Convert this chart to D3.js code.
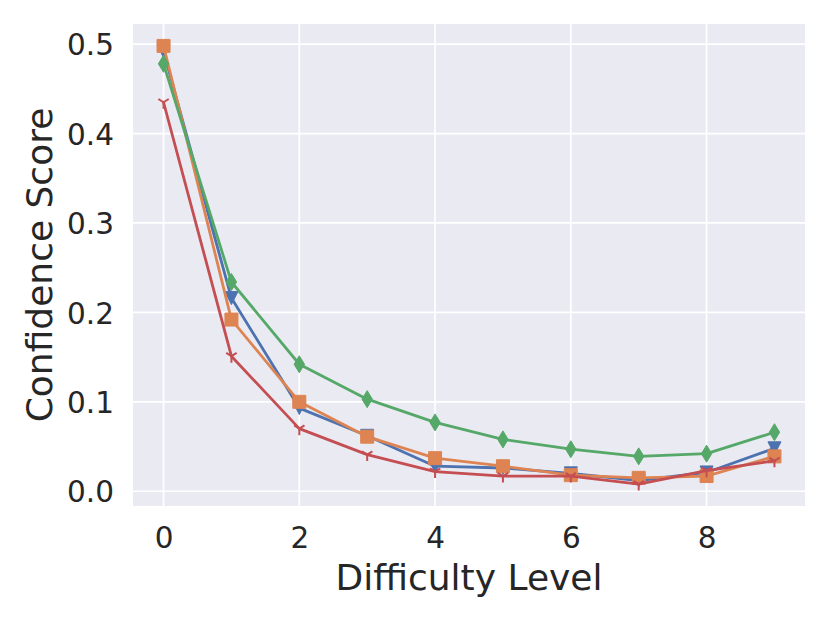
<!DOCTYPE html>
<html>
<head>
<meta charset="utf-8">
<script src="https://cdn.jsdelivr.net/npm/d3@7"></script>
<style>
  html, body { margin: 0; padding: 0; background: #fff; }
  svg { display: block; font-family: "DejaVu Sans", sans-serif; }
</style>
</head>
<body>
<svg id="chart" width="830" height="623"></svg>
<script>
// ---- data ----
const levels = [0, 1, 2, 3, 4, 5, 6, 7, 8, 9];
const seriesBlue   = [0.492, 0.216, 0.093, 0.062, 0.028, 0.026, 0.020, 0.012, 0.021, 0.048];
const seriesOrange = [0.498, 0.192, 0.100, 0.061, 0.037, 0.028, 0.018, 0.015, 0.017, 0.039];
const seriesGreen  = [0.478, 0.234, 0.142, 0.103, 0.077, 0.058, 0.047, 0.039, 0.042, 0.066];
const seriesRed    = [0.435, 0.151, 0.070, 0.041, 0.022, 0.017, 0.017, 0.008, 0.023, 0.034];
const xTicks = [0, 2, 4, 6, 8];
const yTicks = [0.0, 0.1, 0.2, 0.3, 0.4, 0.5];
const xLabel = "Difficulty Level";
const yLabel = "Confidence Score";

const series = [
  { values: seriesBlue,   color: "#4C72B0", marker: "triDown" },
  { values: seriesOrange, color: "#DD8452", marker: "square" },
  { values: seriesGreen,  color: "#55A868", marker: "diamond" },
  { values: seriesRed,    color: "#C44E52", marker: "tri1" }
];

// ---- layout ----
const L = 133, R = 805, T = 24, B = 506;
const svg = d3.select("#chart");
const x = d3.scaleLinear().domain([-0.45, 9.45]).range([L, R]);
const y = d3.scaleLinear().domain([-0.0165, 0.5225]).range([B, T]);

svg.append("rect").attr("x", L).attr("y", T).attr("width", R - L).attr("height", B - T)
  .attr("fill", "#EAEAF2");

const grid = svg.append("g");
grid.selectAll("line.v").data(xTicks).join("line")
  .attr("x1", d => x(d)).attr("x2", d => x(d)).attr("y1", T).attr("y2", B)
  .attr("stroke", "#fff").attr("stroke-width", 1.7);
grid.selectAll("line.h").data(yTicks).join("line")
  .attr("y1", d => y(d)).attr("y2", d => y(d)).attr("x1", L).attr("x2", R)
  .attr("stroke", "#fff").attr("stroke-width", 1.7);

// axes (labels only, seaborn darkgrid style)
const xAxis = d3.axisBottom(x).tickValues(xTicks).tickSize(0).tickPadding(0).tickFormat(d3.format("d"));
const gx = svg.append("g").attr("transform", `translate(0,${B})`).call(xAxis);
gx.select(".domain").remove();
gx.selectAll("text").attr("y", 42).attr("dy", null)
  .attr("font-size", 29.5).attr("fill", "#262626").attr("font-family", "DejaVu Sans");

const yAxis = d3.axisLeft(y).tickValues(yTicks).tickSize(0).tickPadding(0).tickFormat(d3.format(".1f"));
const gy = svg.append("g").attr("transform", `translate(${L},0)`).call(yAxis);
gy.select(".domain").remove();
gy.selectAll("text").attr("x", -19).attr("dy", "0.36em")
  .attr("font-size", 29.5).attr("fill", "#262626").attr("font-family", "DejaVu Sans");

svg.append("text").attr("x", (L + R) / 2).attr("y", 590)
  .attr("text-anchor", "middle").attr("font-size", 36).attr("fill", "#262626")
  .text(xLabel);
svg.append("text").attr("transform", `translate(52,${(T + B) / 2}) rotate(-90)`)
  .attr("text-anchor", "middle").attr("font-size", 36).attr("fill", "#262626")
  .text(yLabel);

// markers
function markerPath(type) {
  switch (type) {
    case "square": { const s = 6.5; return `M${-s},${-s}H${s}V${s}H${-s}Z`; }
    case "diamond": { const h = 8.5, w = 5.2; return `M0,${-h}L${w},0L0,${h}L${-w},0Z`; }
    case "triDown": { const s = 6.5; return `M${-s},${-s}L${s},${-s}L0,${s}Z`; }
    case "tri1": { const r = 6.5; return `M0,0L0,${r}M0,0L${0.8*r},${-0.5*r}M0,0L${-0.8*r},${-0.5*r}`; }
  }
}

const line = d3.line().x((d, i) => x(levels[i])).y(d => y(d));
series.forEach(s => {
  const g = svg.append("g");
  g.append("path").attr("d", line(s.values)).attr("fill", "none")
    .attr("stroke", s.color).attr("stroke-width", 2.8).attr("stroke-linejoin", "round")
    .attr("stroke-linecap", "round");
  const isLine = s.marker === "tri1";
  g.selectAll("path.m").data(s.values).join("path")
    .attr("class", "m")
    .attr("transform", (d, i) => `translate(${x(levels[i])},${y(d)})`)
    .attr("d", markerPath(s.marker))
    .attr("fill", isLine ? "none" : s.color)
    .attr("stroke", s.color)
    .attr("stroke-width", isLine ? 2 : 1);
});
</script>
</body>
</html>
